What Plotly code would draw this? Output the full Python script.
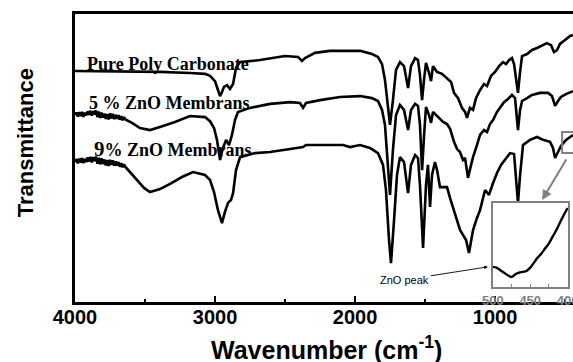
import plotly.graph_objects as go

# ---------------- data (wavenumber cm-1, transmittance a.u.) ----------------
pc_wn = [4000, 3679, 3393, 3179, 3071, 3036, 3000, 2979, 2964, 2950, 2936, 2914, 2893, 2871, 2850, 2821,
         2679, 2500, 2407, 2379, 2357, 2286, 2179, 1964, 1879, 1836, 1807, 1786, 1764, 1750, 1729, 1707,
         1679, 1650, 1621, 1600, 1571, 1550, 1536, 1521, 1507, 1493, 1471, 1457, 1443, 1414, 1379, 1343,
         1314, 1293, 1264, 1236, 1214, 1200, 1179, 1157, 1136, 1107, 1079, 1057, 1029, 1000, 971, 943,
         921, 900, 879, 864, 850, 836, 821, 807, 771, 736, 700, 664, 629, 600, 579, 557, 536, 500, 464, 443]
pc_t = [80.2, 80.0, 79.9, 79.5, 79.2, 78.5, 76.7, 73.6, 71.5, 72.9, 74.7, 75.3, 74.0, 75.7, 81.3, 83.3,
        84.0, 85.4, 85.1, 83.7, 84.7, 86.5, 87.2, 87.2, 86.1, 85.1, 82.6, 77.1, 66.7, 61.5, 70.1, 80.6,
        83.3, 81.9, 74.3, 81.9, 84.7, 84.0, 78.8, 70.1, 77.1, 83.0, 79.5, 76.7, 81.9, 79.9, 79.2, 77.8,
        76.4, 72.6, 70.8, 67.4, 66.0, 63.9, 67.4, 66.7, 70.8, 73.6, 75.7, 75.0, 78.5, 79.9, 81.9, 83.3,
        82.6, 84.0, 84.7, 82.6, 77.1, 72.6, 79.9, 85.4, 86.1, 87.5, 88.2, 89.2, 89.9, 89.2, 86.8, 87.5,
        89.6, 91.0, 92.4, 92.7]

zn5_wn = [4000, 3990, 3980, 3970, 3960, 3950, 3940, 3930, 3920, 3910, 3900, 3890, 3880, 3870, 3860, 3850,
          3840, 3830, 3820, 3810, 3800, 3790, 3780, 3770, 3760, 3750, 3740, 3730, 3720, 3710, 3700, 3690,
          3680, 3670, 3660, 3650, 3640, 3593, 3536, 3464, 3393, 3286, 3179,
          3071, 3036, 3007, 2986, 2964, 2943, 2921, 2900, 2879, 2857, 2836, 2750, 2607, 2464, 2393, 2371,
          2350, 2250, 2107, 1964, 1879, 1836, 1807, 1786, 1764, 1750, 1729, 1707, 1679, 1650, 1621, 1600,
          1571, 1550, 1536, 1521, 1507, 1493, 1471, 1457, 1443, 1414, 1371, 1343, 1321, 1293, 1271, 1250,
          1229, 1214, 1193, 1171, 1157, 1129, 1107, 1079, 1057, 1036, 1014, 986, 964, 936, 907, 879, 857,
          843, 836, 821, 807, 771, 736, 679, 621, 593, 571, 550, 529, 493, 443]
zn5_t = [64.9, 65.8, 64.4, 65.9, 64.6, 66.0, 64.3, 65.7, 64.8, 66.2, 65.0, 66.4, 64.7, 66.3, 65.1, 66.5,
         64.2, 66.1, 63.9, 65.8, 64.0, 65.4, 63.6, 65.2, 63.4, 65.5, 63.8, 65.3, 63.5, 65.0, 63.6, 64.9,
         63.3, 64.5, 63.1, 64.2, 63.4, 62.2, 60.4, 59.7, 60.8, 62.5, 64.6,
         64.2, 62.8, 60.4, 56.3, 49.3, 53.5, 56.3, 54.5, 58.0, 63.2, 66.0, 67.4, 68.8, 69.4, 69.1, 67.4,
         69.1, 70.1, 71.2, 71.5, 70.8, 69.8, 66.7, 61.5, 47.6, 37.2, 52.8, 64.9, 68.4, 66.7, 59.7, 66.7,
         68.8, 68.1, 61.5, 45.8, 57.6, 67.7, 64.9, 62.2, 66.0, 64.6, 62.5, 61.8, 60.1, 55.6, 53.1, 52.1,
         49.3, 50.0, 43.1, 47.6, 50.3, 54.5, 58.0, 59.7, 59.0, 61.8, 63.2, 66.0, 67.4, 69.4, 70.5, 71.9,
         70.8, 64.9, 59.7, 66.7, 69.8, 70.8, 71.9, 72.6, 72.6, 71.5, 68.1, 69.8, 71.2, 72.2, 73.2]

zn9_wn = [4000, 3990, 3980, 3970, 3960, 3950, 3940, 3930, 3920, 3910, 3900, 3890, 3880, 3870, 3860, 3850,
          3840, 3830, 3820, 3810, 3800, 3790, 3780, 3770, 3760, 3750, 3740, 3730, 3720, 3710, 3700, 3690,
          3680, 3670, 3660, 3650, 3640, 3607, 3557, 3507, 3464, 3393, 3321,
          3236, 3157, 3071, 3036, 3007, 2979, 2950, 2929, 2907, 2886, 2871, 2850, 2821, 2714, 2607, 2464,
          2371, 2350, 2250, 2086, 2036, 1964, 1893, 1836, 1800, 1779, 1757, 1743, 1721, 1700, 1679, 1650,
          1621, 1600, 1571, 1550, 1536, 1514, 1493, 1479, 1464, 1450, 1429, 1414, 1393, 1343, 1321, 1300,
          1271, 1250, 1229, 1207, 1186, 1171, 1157, 1129, 1107, 1071, 1043, 1014, 986, 957, 929, 893, 864,
          850, 836, 821, 800, 750, 700, 657, 607, 586, 571, 550, 529, 493, 443]
zn9_t = [48.6, 49.6, 48.1, 49.8, 48.4, 50.0, 48.2, 49.7, 48.6, 50.2, 48.8, 50.4, 48.5, 50.3, 48.9, 50.5,
         48.0, 50.1, 47.8, 49.9, 47.9, 49.5, 47.4, 49.3, 47.2, 49.4, 47.6, 49.2, 47.3, 48.8, 47.4, 48.6,
         47.0, 48.2, 46.8, 47.8, 46.9, 45.1, 42.4, 39.6, 38.2, 39.2, 41.0,
         43.4, 45.1, 44.1, 42.4, 38.2, 31.9, 27.4, 31.3, 34.4, 35.4, 37.8, 45.8, 50.3, 51.7, 52.1, 53.1,
         53.8, 54.5, 54.5, 54.5, 53.8, 54.5, 53.5, 51.7, 47.6, 38.9, 21.5, 13.5, 28.5, 44.1, 50.3, 48.6,
         37.8, 47.6, 51.0, 50.0, 40.6, 18.8, 40.6, 47.6, 33.0, 44.1, 48.6, 45.8, 39.9, 39.9, 36.1, 33.0,
         28.5, 25.0, 23.3, 21.5, 17.0, 21.5, 25.0, 29.2, 31.9, 38.9, 37.2, 41.3, 44.8, 47.6, 49.3, 51.7, 51.4,
         44.1, 34.4, 44.1, 54.5, 56.3, 57.3, 56.3, 55.6, 53.5, 50.0, 52.1, 54.2, 56.3, 58.0]

inset_wn = [500, 495, 490, 485, 480, 475, 470, 465, 460, 455, 450, 445, 440, 435, 430, 425, 420, 415, 410, 405, 400]
inset_t = [24, 23, 20, 17, 14, 12, 15, 17, 18, 19, 23, 29, 35, 40, 46, 52, 60, 68, 77, 86, 94]

series_names = ["Pure Poly Carbonate", "5 % ZnO Membrans", "9% ZnO Membrans"]
x_ticks = [4000, 3000, 2000, 1000]
inset_ticks = [500, 450, 400]

# ---------------- figure ----------------
fig = go.Figure()
for wn, t, name in [(pc_wn, pc_t, series_names[0]), (zn5_wn, zn5_t, series_names[1]), (zn9_wn, zn9_t, series_names[2])]:
    fig.add_trace(go.Scatter(x=wn, y=t, mode="lines", name=name,
                             line=dict(color="black", width=2.6), xaxis="x", yaxis="y"))

fig.add_trace(go.Scatter(x=inset_wn, y=inset_t, mode="lines", line=dict(color="black", width=2.4, shape="spline"),
                         xaxis="x2", yaxis="y2", showlegend=False))

sans = "Liberation Sans, Arial, sans-serif"
serif = "Liberation Serif, Times New Roman, serif"

fig.update_layout(
    width=573, height=362,
    margin=dict(l=75, r=0, t=14, b=60, autoexpand=False),
    paper_bgcolor="white", plot_bgcolor="white",
    showlegend=False,
    xaxis=dict(range=[4000, 443], domain=[0, 1], tickvals=x_ticks, ticktext=[str(v) for v in x_ticks],
               automargin=False,
               ticks="inside", ticklen=6, tickwidth=2, tickcolor="black", ticklabelstandoff=-5,
               minor=dict(tickvals=[3500, 2500, 1500, 500], ticks="inside", ticklen=3, tickwidth=2, tickcolor="black"),
               showline=True, linecolor="black", linewidth=2.5, mirror=True, showgrid=False, zeroline=False,
               tickfont=dict(family=sans, size=20, color="black", weight="bold")),
    yaxis=dict(range=[0, 100], domain=[0, 1], showticklabels=False, ticks="", showline=True, linecolor="black",
               automargin=False, linewidth=2.5, showgrid=False, zeroline=False),
    xaxis2=dict(range=[500, 399.5], domain=[0.839, 0.990], anchor="y2", tickvals=inset_ticks,
                ticktext=[str(v) for v in inset_ticks], ticks="inside", ticklen=3, tickcolor="#808080",
                ticklabeloverflow="allow", automargin=False,
                minor=dict(tickvals=[475, 425], ticks="inside", ticklen=3, tickcolor="#808080"),
                showline=True, mirror=True, linecolor="#808080", linewidth=2, showgrid=False, zeroline=False,
                tickfont=dict(family=sans, size=13, color="#808080", weight="bold")),
    yaxis2=dict(range=[0, 100], domain=[0.052, 0.344], anchor="x2", showticklabels=False, ticks="",
                automargin=False,
                showline=True, mirror=True, linecolor="#808080", linewidth=2, showgrid=False, zeroline=False),
)

# curve labels
label_pos = [(85, 64, series_names[0]), (87, 103, series_names[1]), (92, 149, series_names[2])]
for px, py, name in label_pos:
    txt = name
    if name.startswith("9"):
        txt = '<span style="font-size:21px">9</span>' + name[1:]
    fig.add_annotation(x=(px - 75) / 498, y=(302 - py) / 288, xref="paper", yref="paper", text=txt,
                       showarrow=False, xanchor="left", yanchor="middle",
                       font=dict(family=serif, size=18, color="black", weight="bold"))

# axis titles
fig.add_annotation(x=0.506, y=-0.160, xref="paper", yref="paper", text="Wavenumber (cm<sup>-1</sup>)",
                   showarrow=False, xanchor="center", yanchor="middle",
                   font=dict(family=sans, size=25, color="black", weight="bold"))
fig.add_annotation(x=-0.100, y=0.552, xref="paper", yref="paper", text="Transmittance", textangle=-90,
                   showarrow=False, xanchor="center", yanchor="middle",
                   font=dict(family=sans, size=22, color="black", weight="bold"))

# ZnO peak annotation
fig.add_annotation(x=0.829, y=0.122, xref="paper", yref="paper", text="ZnO peak",
                   showarrow=True, arrowhead=2, arrowsize=0.8, arrowwidth=0.9, arrowcolor="black",
                   ax=-83, ay=13, font=dict(family=sans, size=11, color="black"))

# marker box on 9% curve and gray arrow toward inset
fig.add_shape(type="rect", xref="x", yref="y", x0=521, x1=400, y0=51.7, y1=59.0,
              line=dict(color="#808080", width=2), fillcolor="rgba(0,0,0,0)")
fig.add_annotation(x=0.938, y=0.354, xref="paper", yref="paper", text="", showarrow=True,
                   arrowhead=2, arrowsize=1, arrowwidth=2, arrowcolor="#808080", ax=25, ay=-42)

fig.write_html("out.html", config={"displayModeBar": False},
               post_script="document.body.style.margin='0';")
